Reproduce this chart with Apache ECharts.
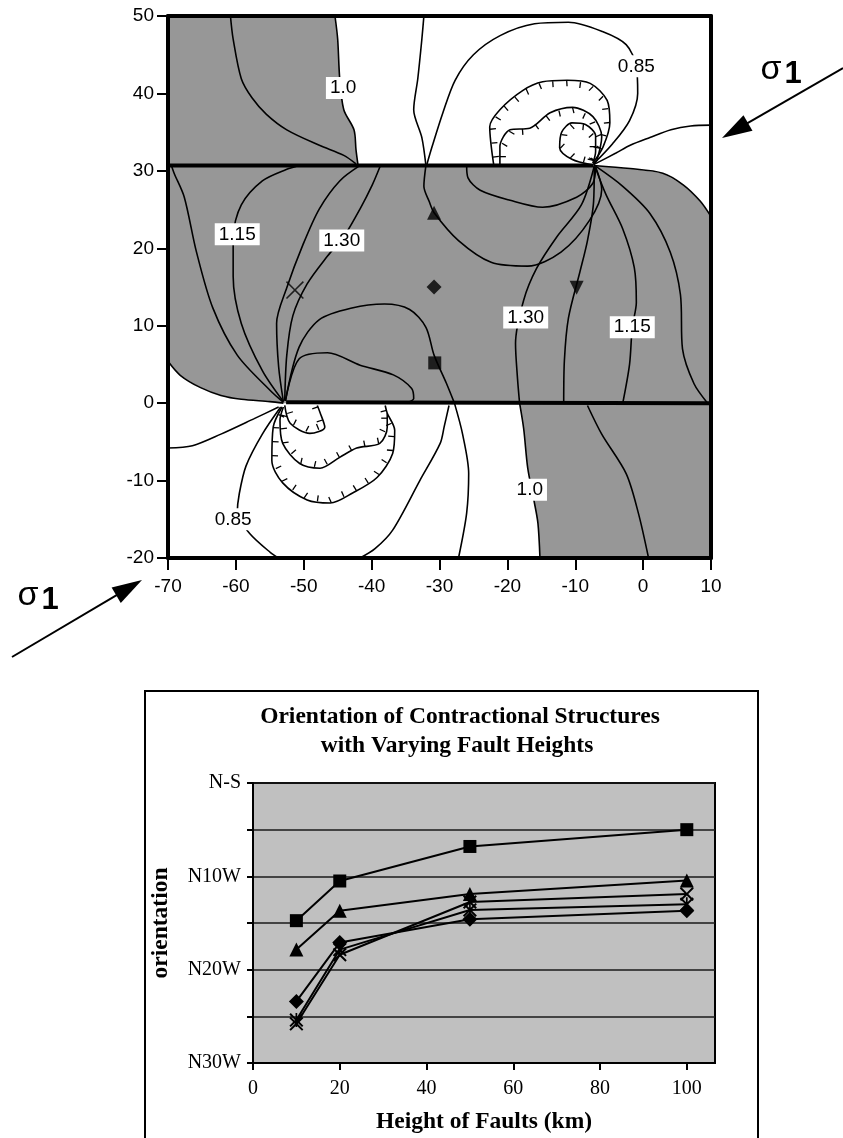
<!DOCTYPE html>
<html><head><meta charset="utf-8">
<script src="https://cdn.jsdelivr.net/npm/echarts@6/dist/echarts.min.js"></script>
<style>html,body{margin:0;padding:0;background:#fff}#c{width:843px;height:1138px}</style>
</head><body><div id="c"></div>
<script>
// ================= TOP MAP DATA (x, y in map units) =================
const faultUpper = [[-70,30.7],[-7.3,30.7]];
const faultLower = [[-52.6,0.1],[10,0]];
// contours above the upper fault
const cUpA = [[-60.8,50],[-60.4,47],[-59.2,41.9],[-57.6,39.4],[-55.5,37.3],[-52.5,35.3],[-47.7,33.3],[-44.1,32],[-42.3,30.9]];
const cUpB = [[-45.4,50],[-45,47],[-44.7,41.9],[-44.1,37.9],[-42.6,35.3],[-42.3,32.7],[-42,30.7]];
const cUpC = [[-32.3,50],[-32.6,47],[-33.2,41.9],[-33.8,37.9],[-32.6,34.3],[-32,30.7]];
const cUpD = [[-31.9,30.7],[-31.1,33.1],[-29.5,37.5],[-27.7,41.7],[-25,45],[-21,47.5],[-16,49],[-11,49.2],[-6,48],[-2.5,46.3],[-1,43.5],[-0.8,40],[-2,36.5],[-4.5,33.5],[-7.3,30.9]];
const cUpE = [[-7.3,30.8],[-4,32.3],[-1.9,33.3],[1,34.3],[4.1,35.3],[7,35.8],[10,35.9]];
const hUp1 = [[-22,30.7],[-22.6,35.7],[-21.1,37.9],[-17.7,40.4],[-14.8,41.5],[-11.2,41.7],[-7.8,41.3],[-5.3,39.1],[-4.9,36.2],[-5.9,33.1],[-7.4,31]];
const hUp2 = [[-21.1,30.75],[-21.1,33.1],[-19.6,35.3],[-16.7,35.5],[-13.7,37.5],[-10.4,38.2],[-7.4,37],[-6.1,34.4],[-6.8,31.4],[-7.3,30.8]];
const hUp3 = [[-7.6,30.8],[-10.5,31.5],[-12.3,33],[-12,35],[-10.5,36.2],[-8.5,36],[-7,34.5],[-7,32.5],[-7.4,31]];
// contours between the faults
const cBandL1 = [[-53,0.1],[-54.9,1.6],[-59.8,6.2],[-63.4,12.3],[-65.8,19.5],[-67.6,26.6],[-69.1,29.7],[-69.5,30.7]];
const cBandL2 = [[-53,0.2],[-56.1,4.2],[-59.2,10.3],[-60.4,16.4],[-60.4,21.5],[-59.2,25.6],[-56.1,28.7],[-52.5,30.2],[-50.7,30.7]];
const cBandL3 = [[-53,0.2],[-53.7,4.7],[-54,10.3],[-52.5,14.9],[-50.1,20.5],[-47.7,25.1],[-44.7,28.7],[-41.7,30.7]];
const cBandL4 = [[-52.8,0.3],[-52.5,6.2],[-51.6,11.3],[-49.5,15.4],[-46.5,19],[-44.1,21.5],[-41.7,25.1],[-39.9,28.2],[-38.7,30.7]];
const cBandL5 = [[-52.7,0.3],[-50.7,7.2],[-47.7,10.8],[-42.9,12.3],[-38.1,12.8],[-34.4,12.1],[-32,9.8],[-30.8,6.2],[-29,2.6],[-27.8,0]];
const cBandL6 = [[-52.7,0.3],[-50.7,5.7],[-46.5,6.5],[-41.7,4.9],[-36.8,3.65],[-34.1,1.9],[-33.8,0.6],[-35,0]];
const cBandR1 = [[-26,30.7],[-25.8,29.1],[-24,27.5],[-19.6,26.2],[-14.8,25.3],[-9.8,26.6],[-7.4,28.4],[-7,30.5]];
const cBandR2 = [[-32,30.7],[-32.3,28],[-31.5,26],[-30.8,24.6],[-27.2,21],[-22.4,18.2],[-17,17.7],[-12.1,19.5],[-7.9,23.6],[-6.1,27.6],[-7,30.5]];
const cBandR3 = [[-7.2,30.6],[-9.1,25.6],[-12.7,21.5],[-15.7,17.4],[-17.6,13.3],[-18.8,7.7],[-18.5,3.1],[-18.2,0]];
const cBandR4 = [[-7.2,30.6],[-7.3,26],[-8.2,21],[-9.3,17],[-11,11],[-11.6,5.5],[-11.7,0]];
const cBandR5 = [[-7.1,30.6],[-5.5,27],[-3,22.5],[-1.3,17.5],[-1,13],[-1.6,9.8],[-2,5],[-3,0]];
const cBandR6 = [[-7,30.6],[-3,28],[1,24.5],[4,19.5],[5.5,14],[5.8,7],[7.5,2.5],[9.5,0]];
const grayEdgeLeft = [[-53,0],[-55,0.2],[-59.2,0.5],[-62.2,1.0],[-65.2,2.0],[-68.2,3.6],[-70,5.4]];
const grayEdgeRight = [[-7.3,30.7],[-1.9,30.3],[2.9,29.7],[5.9,28.2],[8.4,26.1],[10,24.1]];
// contours below the lower fault
const cLowA = [[-53.7,-0.5],[-57.3,-2.0],[-62.2,-4.0],[-66.4,-5.5],[-70,-5.8]];
const cLowB = [[-53.4,-0.5],[-56.1,-4],[-58.5,-8.1],[-59.5,-11.7],[-59.8,-14.2],[-58,-16.8],[-54.9,-19.3],[-53.7,-20]];
const hLow1 = [[-53.2,-0.5],[-54.5,-3.1],[-54.7,-7.4],[-53.1,-10.3],[-49.5,-12.5],[-46.1,-12.9],[-42.8,-11.6],[-39.2,-9.6],[-36.9,-6.5],[-36.6,-3.5],[-37.7,-1.3],[-38,-0.3]];
const hLow2 = [[-53,-0.5],[-53.5,-2.2],[-53.1,-5.2],[-50.6,-7.8],[-47.6,-8.4],[-44.7,-7],[-42.2,-5.8],[-38.8,-5.2],[-37.7,-3.1],[-37.7,-1.3]];
const hLow3 = [[-52.8,-0.3],[-52,-2.6],[-49.1,-3.9],[-46.9,-3.1],[-47.6,-1.2],[-48,-0.3]];
const cLowC = [[-28.6,-0.3],[-29.3,-3],[-29.9,-5.2],[-32.9,-10],[-36.9,-16.4],[-39.5,-18.8],[-41.7,-20]];
const cLowD = [[-27.8,0],[-26.6,-4],[-25.7,-9.1],[-26,-14.2],[-27.2,-20]];
const grayEdgeLow = [[-18.2,0],[-17.6,-3.3],[-17.0,-8.4],[-16.1,-12.5],[-15.5,-15.5],[-15.2,-20]];
const cLowF = [[-8.2,-0.3],[-6.1,-4],[-2.5,-9.1],[-0.7,-14.2],[0.8,-20]];
// contour labels
const contourLabelText = ['1.0','0.85','1.15','1.30','1.30','1.15','1.0','0.85'];
const contourLabelPos = [[-44.2,40.7],[-1,43.5],[-59.8,21.8],[-44.4,21],[-17.3,11.05],[-1.6,9.8],[-16.7,-11.2],[-60.4,-15]];
// station markers
const stationTriangle = [-30.8,24.6];
const stationDiamond = [-30.8,15.0];
const stationSquare = [-30.7,5.2];
const stationCross = [-51.3,14.6];
const stationTriDown = [-9.8,14.9];

// ================= BOTTOM CHART DATA =================
const faultHeights = [10,20,50,100];
const orientSquare   = [14.75,10.5,6.8,5.0];
const orientTriangle = [17.85,13.7,11.9,10.45];
const orientDiamond  = [23.4,17.1,14.6,13.7];
const orientCross    = [25.8,18.4,12.75,11.9];
const orientStar     = [25.4,17.85,13.6,13.0];
const orientTickLabels = {0:'N-S',10:'N10W',20:'N20W',30:'N30W'};
const heightTicks = [0,20,40,60,80,100];

// ================= BUILD =================
const SANS = '"Liberation Sans", Arial, sans-serif';
const SERIF = '"Liberation Serif", "Times New Roman", serif';
const grayPolygon = [[-70,50]].concat(cUpB, faultUpper.slice(1), grayEdgeRight.slice(1),
  [[10,-20]], grayEdgeLow.slice().reverse(), [[-53,0]], grayEdgeLeft.slice(1));

const contours = [cUpA,cUpB,cUpC,cUpD,cUpE,hUp1,hUp2,hUp3,
  cBandL1,cBandL2,cBandL3,cBandL4,cBandL5,cBandL6,cBandR1,cBandR2,cBandR3,cBandR4,cBandR5,cBandR6,
  grayEdgeLeft,grayEdgeRight,cLowA,cLowB,hLow1,hLow2,hLow3,cLowC,cLowD,grayEdgeLow,cLowF];
const hachured = [hUp1,hUp2,hUp3,hLow1,hLow2,hLow3];

function hachureRender(pts){
  return function(params, api){
    const px = pts.map(p => api.coord(p));
    let area = 0;
    for (let i=0;i<px.length;i++){const a=px[i],b=px[(i+1)%px.length];area+=a[0]*b[1]-b[0]*a[1];}
    const sg = area>0?1:-1, spacing=14, len=6;
    const children=[]; let next=spacing*0.6;
    let run=0;
    for (let i=0;i<px.length-1;i++){
      const a=px[i],b=px[i+1],dx=b[0]-a[0],dy=b[1]-a[1],L=Math.hypot(dx,dy);
      if(!L) continue;
      const ux=dx/L,uy=dy/L,nx=-uy*sg,ny=ux*sg;
      while(next<=run+L){
        const t=next-run, x=a[0]+ux*t, y=a[1]+uy*t;
        children.push({type:'line',shape:{x1:x,y1:y,x2:x+nx*len,y2:y+ny*len},style:{stroke:'#000',lineWidth:1.3}});
        next+=spacing;
      }
      run+=L;
    }
    return {type:'group',children};
  };
}

const series = [];
series.push({type:'custom',xAxisIndex:0,yAxisIndex:0,z:1,silent:true,clip:true,data:[[-30,15]],
  renderItem:(params,api)=>({type:'polygon',shape:{points:grayPolygon.map(p=>api.coord(p))},style:{fill:'#979797'}})});
contours.forEach(c=>series.push({type:'line',xAxisIndex:0,yAxisIndex:0,data:c,symbol:'none',smooth:0.3,
  silent:true,z:3,lineStyle:{color:'#000',width:1.6}}));
hachured.forEach(h=>series.push({type:'custom',xAxisIndex:0,yAxisIndex:0,z:3,silent:true,clip:true,data:[[-30,15]],renderItem:hachureRender(h)}));
[faultUpper,faultLower].forEach(f=>series.push({type:'line',xAxisIndex:0,yAxisIndex:0,data:f,symbol:'none',
  silent:true,z:4,lineStyle:{color:'#000',width:4}}));
series.push({type:'scatter',xAxisIndex:0,yAxisIndex:0,z:6,silent:true,symbol:'circle',symbolSize:0,
  data:contourLabelText.map((t,i)=>({name:t,value:contourLabelPos[i]})),
  label:{show:true,position:'inside',formatter:'{b}',backgroundColor:'#ffffff',padding:[2,4,1,4],color:'#000000',opacity:1,
    textBorderWidth:0,fontSize:19,fontFamily:SANS}});
const crossPath = 'path://M0,1 L1,0 L5,4 L9,0 L10,1 L6,5 L10,9 L9,10 L5,6 L1,10 L0,9 L4,5 Z';
const crossThin = 'path://M0,0.6 L0.6,0 L5,4.4 L9.4,0 L10,0.6 L5.6,5 L10,9.4 L9.4,10 L5,5.6 L0.6,10 L0,9.4 L4.4,5 Z';
const starPath = 'path://M0,1 L1,0 L5,4 L9,0 L10,1 L6,5 L10,9 L9,10 L5,6 L1,10 L0,9 L4,5 Z M4.4,0 L5.6,0 L5.6,10 L4.4,10 Z';
[[stationTriangle,'triangle',14,0],[stationDiamond,'diamond',15,0],[stationSquare,'rect',13,0],[stationCross,crossThin,18,0],[stationTriDown,'triangle',14,180]]
  .forEach(m=>series.push({type:'scatter',xAxisIndex:0,yAxisIndex:0,z:6,silent:true,data:[m[0]],symbol:m[1],symbolSize:m[2],symbolRotate:m[3],itemStyle:{color:'#000'}}));

// bottom chart series
[[orientSquare,'rect',13],[orientTriangle,'triangle',14],[orientDiamond,'diamond',15],[orientCross,crossPath,14],[orientStar,starPath,14]]
  .forEach(s=>series.push({type:'line',xAxisIndex:2,yAxisIndex:2,z:5,silent:true,
    data:faultHeights.map((h,i)=>[h,s[0][i]]),symbol:s[1],symbolSize:s[2],showAllSymbol:true,
    itemStyle:{color:'#000'},lineStyle:{color:'#000',width:2}}));

function arrow(x1,y1,x2,y2,hl,hw){
  const dx=x2-x1,dy=y2-y1,L=Math.hypot(dx,dy),ux=dx/L,uy=dy/L;
  const bx=x2-ux*hl,by=y2-uy*hl;
  return [
    {type:'line',shape:{x1,y1,x2:bx+ux*2,y2:by+uy*2},style:{stroke:'#000',lineWidth:2}},
    {type:'polygon',shape:{points:[[x2,y2],[bx-uy*hw,by+ux*hw],[bx+uy*hw,by-ux*hw]]},style:{fill:'#000'}}
  ];
}
const txt=(x,y,text,font,align,valign,rot)=>({type:'text',x,y,rotation:rot||0,
  style:{text,font,fill:'#000',align,verticalAlign:valign,textAlign:align,textVerticalAlign:valign}});

const mapAxisCommon = {axisLine:{show:true,onZero:false,lineStyle:{color:'#000',width:4}},splitLine:{show:false},z:10};
const option = {
  animation:false,
  backgroundColor:'#fff',
  grid:[
    {left:168,top:16,width:543,height:542,show:false},
    {left:253,top:783,width:462,height:280,show:true,backgroundColor:'#c0c0c0',borderColor:'#000',borderWidth:2}
  ],
  xAxis:[
    Object.assign({type:'value',gridIndex:0,min:-70,max:10,interval:10,position:'bottom',
      axisTick:{show:true,length:12,lineStyle:{color:'#000',width:2}},
      axisLabel:{color:'#000',fontSize:19,fontFamily:SANS,margin:19}},mapAxisCommon),
    Object.assign({type:'value',gridIndex:0,min:-70,max:10,interval:10,position:'top',
      axisTick:{show:false},axisLabel:{show:false}},mapAxisCommon),
    {type:'value',gridIndex:1,min:0,max:106.5,interval:20,position:'bottom',
      axisLine:{show:true,onZero:false,lineStyle:{color:'#000',width:2}},
      axisTick:{show:true,length:7,customValues:heightTicks,lineStyle:{color:'#000',width:2}},
      axisLabel:{color:'#000',fontSize:20,fontFamily:SERIF,margin:16,customValues:heightTicks},
      splitLine:{show:false}}
  ],
  yAxis:[
    Object.assign({type:'value',gridIndex:0,min:-20,max:50,interval:10,position:'left',
      axisTick:{show:true,length:11,lineStyle:{color:'#000',width:2}},
      axisLabel:{color:'#000',fontSize:19,fontFamily:SANS,margin:14}},mapAxisCommon),
    Object.assign({type:'value',gridIndex:0,min:-20,max:50,interval:10,position:'right',
      axisTick:{show:false},axisLabel:{show:false}},mapAxisCommon),
    {type:'value',gridIndex:1,min:0,max:30,interval:5,inverse:true,position:'left',
      axisLine:{show:true,onZero:false,lineStyle:{color:'#000',width:2}},
      axisTick:{show:true,length:6,lineStyle:{color:'#000',width:2}},
      axisLabel:{color:'#000',fontSize:20,fontFamily:SERIF,margin:12,formatter:v=>orientTickLabels[v]||''},
      splitLine:{show:true,lineStyle:{color:'#1a1a1a',width:1.5}}}
  ],
  graphic:[
    ...arrow(843,68,722,138,30,9),
    ...arrow(12,657,142,580,30,9),
    txt(771,70,'σ','34px '+SANS,'center','middle'),
    txt(793,74,'1','bold 31px '+SANS,'center','middle'),
    txt(28,596,'σ','34px '+SANS,'center','middle'),
    txt(50,600,'1','bold 31px '+SANS,'center','middle'),
    {type:'rect',shape:{x:145,y:691,width:613,height:500},style:{fill:'none',stroke:'#000',lineWidth:2}},
    txt(460,717,'Orientation of Contractional Structures','bold 23.5px '+SERIF,'center','middle'),
    txt(457,746,'with Varying Fault Heights','bold 23.5px '+SERIF,'center','middle'),
    txt(484,1122,'Height of Faults (km)','bold 23.5px '+SERIF,'center','middle'),
    txt(161,923,'orientation','bold 23.5px '+SERIF,'center','middle',Math.PI/2)
  ],
  series
};
const chart = echarts.init(document.getElementById('c'));
chart.setOption(option);
</script></body></html>
